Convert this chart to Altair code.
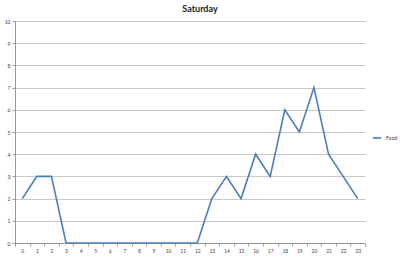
import altair as alt
import pandas as pd

hours = [str(h) for h in range(24)]
food = [2, 3, 3, 0, 0, 0, 0, 0, 0, 0, 0, 0, 0, 2, 3, 2, 4, 3, 6, 5, 7, 4, 3, 2]
series = "Food"
title = "Saturday"

df = pd.DataFrame({"hour": hours, "value": food, "series": [series] * len(hours)})

chart = alt.Chart(df).mark_line(strokeWidth=1.6).encode(
    x=alt.X("hour:O", sort=hours, bandPosition=0.5,
            scale=alt.Scale(type="band", paddingInner=0, paddingOuter=0),
            axis=alt.Axis(title=None, labelAngle=0, tickBand="extent", labelFontSize=5,
                          labelColor="#444", domainColor="#999", tickColor="#999",
                          tickSize=3, labelPadding=2, grid=False, labelFont="Lato")),
    y=alt.Y("value:Q", scale=alt.Scale(domain=[0, 10], nice=False),
            axis=alt.Axis(title=None, values=list(range(11)), labelFontSize=5, labelColor="#444",
                          domainColor="#999", tickColor="#999", tickSize=3, labelPadding=2,
                          gridColor="#c8c8c8", labelFont="Lato")),
    color=alt.Color("series:N", scale=alt.Scale(range=["#4a7ebb"]),
                    legend=alt.Legend(title=None, orient="none", legendX=357, legendY=112,
                                      symbolType="stroke", symbolStrokeWidth=1.6, symbolSize=70,
                                      labelFontSize=5, labelColor="#444", labelFont="Lato")),
).properties(
    width=350, height=222,
    title=alt.TitleParams(title, fontSize=9, font="Lato", fontWeight="bold", color="#222",
                          anchor="middle", offset=5, dx=10),
    autosize=alt.AutoSizeParams(type="none"),
    padding={"left": 15, "top": 21, "right": 35, "bottom": 17},
).configure_view(stroke=None)

chart.save("out.html", embed_options={"renderer": "svg", "actions": False})
